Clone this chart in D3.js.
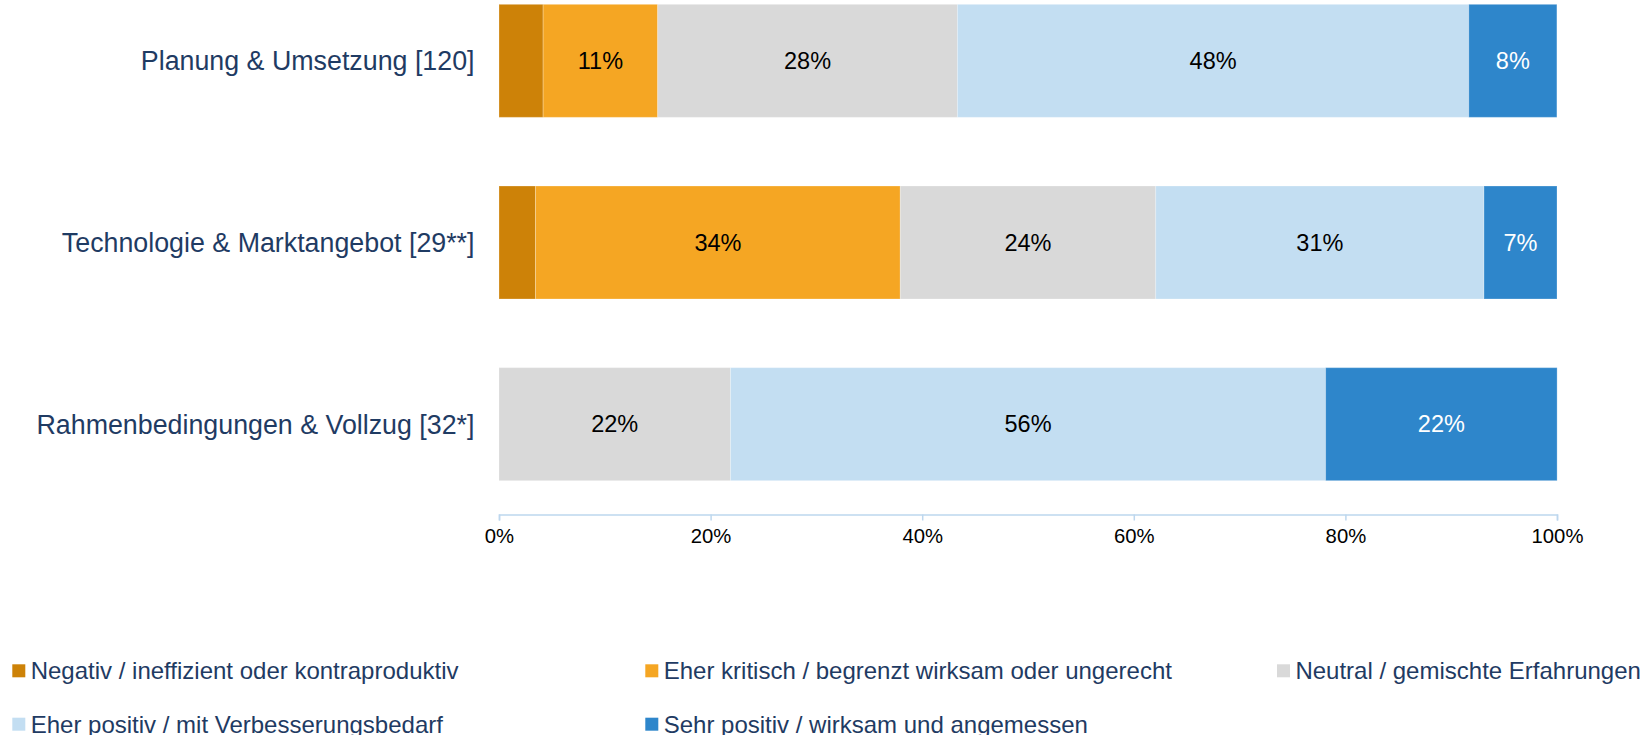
<!DOCTYPE html>
<html>
<head>
<meta charset="utf-8">
<script src="https://cdn.jsdelivr.net/npm/d3@7"></script>
<style>
  html, body { margin: 0; padding: 0; background: #fff; }
  svg { display: block; font-family: "Liberation Sans", Arial, sans-serif; }
</style>
</head>
<body>
<svg id="chart" width="1642" height="735"></svg>
<script>
// ---- Data ----
const categories = [
  "Planung & Umsetzung [120]",
  "Technologie & Marktangebot [29**]",
  "Rahmenbedingungen & Vollzug [32*]"
];
const seriesNames = [
  "Negativ / ineffizient oder kontraproduktiv",
  "Eher kritisch / begrenzt wirksam oder ungerecht",
  "Neutral / gemischte Erfahrungen",
  "Eher positiv / mit Verbesserungsbedarf",
  "Sehr positiv / wirksam und angemessen"
];
// percentage shares per category (order matches categories)
const negativ      = [4.17, 3.45, 0];
const eherKritisch = [10.83, 34.48, 0];
const neutral      = [28.33, 24.14, 21.88];
const eherPositiv  = [48.33, 31.03, 56.25];
const sehrPositiv  = [8.33, 6.90, 21.88];
const tickValues = [0, 20, 40, 60, 80, 100];
const colors = ["#CD8208", "#F5A623", "#D9D9D9", "#C3DEF2", "#2E86CB"];
const labelColors = ["#000", "#000", "#000", "#000", "#fff"];

const seriesValues = [negativ, eherKritisch, neutral, eherPositiv, sehrPositiv];
const keys = seriesNames.map((_, i) => "s" + i);
const rows = categories.map((c, ci) => {
  const r = { cat: c };
  keys.forEach((k, si) => r[k] = seriesValues[si][ci]);
  return r;
});

const svg = d3.select("#chart");
const x = d3.scaleLinear().domain([0, 100]).range([499, 1557]);
const y = d3.scaleBand().domain(categories).range([-30, 515])
  .paddingInner(0.378).paddingOuter(0.189);

const stack = d3.stack().keys(keys)(rows);

const layers = svg.append("g").selectAll("g")
  .data(stack).join("g")
  .attr("fill", (d, i) => colors[i]);

layers.selectAll("rect")
  .data(d => d)
  .join("rect")
  .attr("x", d => x(d[0]))
  .attr("y", d => y(d.data.cat))
  .attr("width", d => Math.max(0, x(d[1]) - x(d[0])))
  .attr("height", y.bandwidth())
  .attr("stroke", "rgba(255,255,255,0.25)")
  .attr("stroke-width", 1);

// value labels
stack.forEach((layer, si) => {
  svg.append("g").selectAll("text")
    .data(layer.filter(d => d[1] - d[0] >= 5))
    .join("text")
    .attr("x", d => (x(d[0]) + x(d[1])) / 2)
    .attr("y", d => y(d.data.cat) + y.bandwidth() / 2)
    .attr("dy", "0.35em")
    .attr("text-anchor", "middle")
    .attr("font-size", "23.5px")
    .attr("fill", labelColors[si])
    .text(d => Math.round(d[1] - d[0]) + "%");
});

// category labels
svg.append("g").selectAll("text")
  .data(categories).join("text")
  .attr("x", 474.5)
  .attr("y", d => y(d) + y.bandwidth() / 2)
  .attr("dy", "0.35em")
  .attr("text-anchor", "end")
  .attr("font-size", "26.8px")
  .attr("fill", "#1F3B63")
  .text(d => d);

// x axis
const axis = d3.axisBottom(x).tickValues(tickValues)
  .tickFormat(d => d + "%").tickSize(6).tickSizeOuter(6).tickPadding(8);
const ax = svg.append("g").attr("transform", "translate(0,514.5)").call(axis);
ax.select(".domain").attr("stroke", "#BDD7EE").attr("stroke-width", 1.5);
ax.selectAll(".tick line").attr("stroke", "#BDD7EE").attr("stroke-width", 1.5);
ax.selectAll(".tick text").attr("font-size", "20.3px").attr("fill", "#000")
  .attr("font-family", "Liberation Sans, Arial, sans-serif");

// legend
const legendPos = [[12.3, 664.3], [645.3, 664.3], [1277, 664.3], [12.3, 717.7], [645.3, 717.7]];
const lg = svg.append("g").selectAll("g")
  .data(seriesNames).join("g")
  .attr("transform", (d, i) => `translate(${legendPos[i][0]},${legendPos[i][1]})`);
lg.append("rect").attr("width", 13).attr("height", 13)
  .attr("fill", (d, i) => colors[i]);
lg.append("text").attr("x", 18.4).attr("y", 6.5).attr("dy", "0.35em")
  .attr("font-size", "24px").attr("fill", "#1F3B63")
  .text(d => d);
</script>
</body>
</html>
